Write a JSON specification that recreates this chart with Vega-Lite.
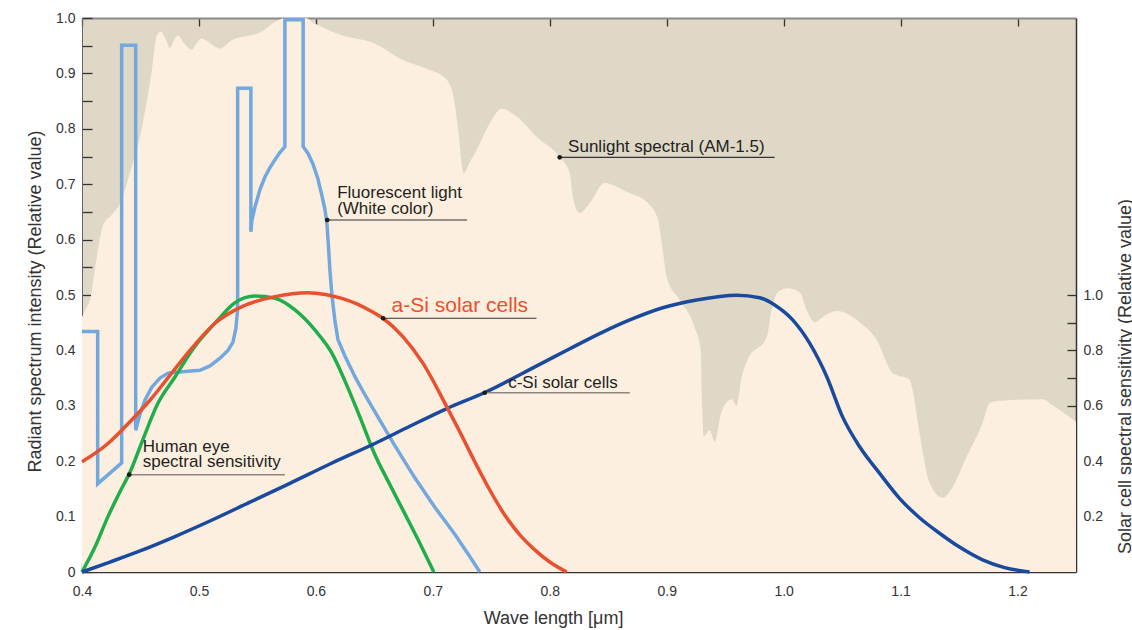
{
  "$schema": "https://vega.github.io/schema/vega-lite/v6.json",
  "width": 994,
  "height": 554,
  "autosize": "none",
  "padding": {"left": 82, "top": 18, "right": 56, "bottom": 58},
  "background": "white",
  "config": {
    "view": {"fill": "#dfd8c7", "stroke": null},
    "font": "Liberation Sans",
    "axis": {"grid": false, "labelFont": "Liberation Sans", "titleFont": "Liberation Sans", "labelColor": "#333333", "titleColor": "#333333", "titleFontWeight": "normal", "labelOverlap": false, "labelFlush": false}
  },
  "datasets": {
    "sun": [
      {"wl":0.4,"v":0.46},{"wl":0.4034,"v":0.475},{"wl":0.4068,"v":0.49},{"wl":0.412,"v":0.56},{"wl":0.418,"v":0.626},{"wl":0.4256,"v":0.645},{"wl":0.4325,"v":0.665},{"wl":0.441,"v":0.72},{"wl":0.4513,"v":0.803},{"wl":0.4598,"v":0.906},{"wl":0.4641,"v":0.969},{"wl":0.4675,"v":0.975},{"wl":0.4709,"v":0.965},{"wl":0.4752,"v":0.946},{"wl":0.4786,"v":0.96},{"wl":0.482,"v":0.968},{"wl":0.4872,"v":0.955},{"wl":0.4938,"v":0.943},{"wl":0.4983,"v":0.955},{"wl":0.5023,"v":0.963},{"wl":0.5094,"v":0.955},{"wl":0.518,"v":0.945},{"wl":0.528,"v":0.96},{"wl":0.5536,"v":0.975},{"wl":0.5675,"v":0.996},{"wl":0.5744,"v":1.0},{"wl":0.5906,"v":1.0},{"wl":0.5991,"v":0.99},{"wl":0.622,"v":0.969},{"wl":0.6504,"v":0.954},{"wl":0.6744,"v":0.924},{"wl":0.6974,"v":0.906},{"wl":0.7103,"v":0.892},{"wl":0.7171,"v":0.864},{"wl":0.7214,"v":0.803},{"wl":0.7265,"v":0.72},{"wl":0.7316,"v":0.74},{"wl":0.7376,"v":0.762},{"wl":0.7487,"v":0.81},{"wl":0.759,"v":0.836},{"wl":0.7718,"v":0.822},{"wl":0.7889,"v":0.785},{"wl":0.8085,"v":0.749},{"wl":0.8171,"v":0.72},{"wl":0.8197,"v":0.677},{"wl":0.8256,"v":0.648},{"wl":0.8342,"v":0.666},{"wl":0.847,"v":0.702},{"wl":0.8658,"v":0.686},{"wl":0.8829,"v":0.668},{"wl":0.8923,"v":0.638},{"wl":0.8966,"v":0.581},{"wl":0.9,"v":0.532},{"wl":0.9111,"v":0.491},{"wl":0.9239,"v":0.442},{"wl":0.9291,"v":0.4},{"wl":0.9303,"v":0.3},{"wl":0.9316,"v":0.245},{"wl":0.9368,"v":0.256},{"wl":0.941,"v":0.235},{"wl":0.947,"v":0.29},{"wl":0.9556,"v":0.312},{"wl":0.9598,"v":0.3},{"wl":0.9641,"v":0.352},{"wl":0.9692,"v":0.383},{"wl":0.9855,"v":0.424},{"wl":0.9897,"v":0.473},{"wl":0.9949,"v":0.505},{"wl":1.0034,"v":0.512},{"wl":1.0137,"v":0.505},{"wl":1.0197,"v":0.473},{"wl":1.0265,"v":0.451},{"wl":1.0333,"v":0.46},{"wl":1.0453,"v":0.471},{"wl":1.065,"v":0.451},{"wl":1.0795,"v":0.419},{"wl":1.0932,"v":0.359},{"wl":1.1077,"v":0.347},{"wl":1.1103,"v":0.328},{"wl":1.1162,"v":0.251},{"wl":1.1248,"v":0.161},{"wl":1.1359,"v":0.134},{"wl":1.1444,"v":0.153},{"wl":1.1564,"v":0.208},{"wl":1.1701,"v":0.269},{"wl":1.1761,"v":0.305},{"wl":1.1846,"v":0.309},{"wl":1.2214,"v":0.312},{"wl":1.2299,"v":0.301},{"wl":1.25,"v":0.271}
    ],
    "fluor": [
      {"wl":0.4,"v":0.434},{"wl":0.4134,"v":0.434},{"wl":0.4134,"v":0.159},{"wl":0.4339,"v":0.197},{"wl":0.4339,"v":0.951},{"wl":0.4459,"v":0.951},{"wl":0.4459,"v":0.256},{"wl":0.4496,"v":0.285},{"wl":0.4538,"v":0.31},{"wl":0.4598,"v":0.334},{"wl":0.4667,"v":0.35},{"wl":0.4735,"v":0.359},{"wl":0.488,"v":0.362},{"wl":0.5009,"v":0.364},{"wl":0.5094,"v":0.372},{"wl":0.518,"v":0.386},{"wl":0.5248,"v":0.4},{"wl":0.5291,"v":0.415},{"wl":0.5316,"v":0.44},{"wl":0.5329,"v":0.47},{"wl":0.5331,"v":0.491},{"wl":0.5331,"v":0.873},{"wl":0.5444,"v":0.873},{"wl":0.5444,"v":0.614},{"wl":0.5453,"v":0.635},{"wl":0.5479,"v":0.659},{"wl":0.5521,"v":0.69},{"wl":0.5564,"v":0.713},{"wl":0.5607,"v":0.73},{"wl":0.565,"v":0.744},{"wl":0.5692,"v":0.757},{"wl":0.5735,"v":0.768},{"wl":0.5735,"v":0.997},{"wl":0.5891,"v":0.997},{"wl":0.5891,"v":0.768},{"wl":0.5934,"v":0.755},{"wl":0.5974,"v":0.737},{"wl":0.6017,"v":0.71},{"wl":0.6051,"v":0.68},{"wl":0.6077,"v":0.655},{"wl":0.6094,"v":0.63},{"wl":0.6107,"v":0.59},{"wl":0.612,"v":0.545},{"wl":0.6137,"v":0.5},{"wl":0.6162,"v":0.455},{"wl":0.6188,"v":0.42},{"wl":0.6248,"v":0.39},{"wl":0.6333,"v":0.353},{"wl":0.6419,"v":0.32},{"wl":0.653,"v":0.28},{"wl":0.6675,"v":0.228},{"wl":0.6846,"v":0.17},{"wl":0.7017,"v":0.117},{"wl":0.7188,"v":0.068},{"wl":0.7316,"v":0.028},{"wl":0.7402,"v":0}
    ],
    "eye": [
      {"wl":0.4,"v":0},{"wl":0.4111,"v":0.045},{"wl":0.4222,"v":0.1},{"wl":0.4325,"v":0.145},{"wl":0.441,"v":0.18},{"wl":0.4513,"v":0.235},{"wl":0.465,"v":0.305},{"wl":0.4795,"v":0.352},{"wl":0.494,"v":0.4},{"wl":0.5162,"v":0.455},{"wl":0.5308,"v":0.486},{"wl":0.5479,"v":0.498},{"wl":0.565,"v":0.494},{"wl":0.5821,"v":0.473},{"wl":0.5991,"v":0.437},{"wl":0.6137,"v":0.395},{"wl":0.6248,"v":0.345},{"wl":0.6376,"v":0.28},{"wl":0.6504,"v":0.212},{"wl":0.6632,"v":0.158},{"wl":0.6761,"v":0.105},{"wl":0.6889,"v":0.052},{"wl":0.7009,"v":0}
    ],
    "asi": [
      {"wl":0.4,"r":0.398},{"wl":0.4222,"r":0.464},{"wl":0.4368,"r":0.524},{"wl":0.4581,"r":0.62},{"wl":0.4752,"r":0.71},{"wl":0.4923,"r":0.8},{"wl":0.5137,"r":0.898},{"wl":0.5368,"r":0.958},{"wl":0.565,"r":0.994},{"wl":0.5932,"r":1.008},{"wl":0.608,"r":1.002},{"wl":0.6222,"r":0.988},{"wl":0.635,"r":0.968},{"wl":0.6462,"r":0.944},{"wl":0.6573,"r":0.916},{"wl":0.6744,"r":0.85},{"wl":0.6915,"r":0.754},{"wl":0.712,"r":0.596},{"wl":0.7231,"r":0.506},{"wl":0.7359,"r":0.398},{"wl":0.7487,"r":0.296},{"wl":0.7615,"r":0.206},{"wl":0.7744,"r":0.134},{"wl":0.7872,"r":0.08},{"wl":0.8,"r":0.036},{"wl":0.8145,"r":0}
    ],
    "csi": [
      {"wl":0.4,"r":0},{"wl":0.4239,"r":0.036},{"wl":0.4496,"r":0.076},{"wl":0.4795,"r":0.128},{"wl":0.5094,"r":0.184},{"wl":0.5436,"r":0.252},{"wl":0.5778,"r":0.32},{"wl":0.612,"r":0.39},{"wl":0.6504,"r":0.464},{"wl":0.6803,"r":0.526},{"wl":0.712,"r":0.59},{"wl":0.7444,"r":0.648},{"wl":0.7889,"r":0.744},{"wl":0.8171,"r":0.806},{"wl":0.8453,"r":0.866},{"wl":0.8684,"r":0.91},{"wl":0.8966,"r":0.954},{"wl":0.9256,"r":0.982},{"wl":0.9598,"r":0.999},{"wl":0.9795,"r":0.99},{"wl":0.9923,"r":0.964},{"wl":1.0077,"r":0.91},{"wl":1.0222,"r":0.826},{"wl":1.0368,"r":0.706},{"wl":1.0504,"r":0.56},{"wl":1.065,"r":0.452},{"wl":1.0821,"r":0.356},{"wl":1.0991,"r":0.266},{"wl":1.1162,"r":0.196},{"wl":1.1333,"r":0.14},{"wl":1.1504,"r":0.09},{"wl":1.1701,"r":0.044},{"wl":1.1889,"r":0.016},{"wl":1.2103,"r":0}
    ],
    "leadDark": [
      {"wl":0.8085,"wl2":0.9923,"v":0.7485},
      {"wl":0.6097,"wl2":0.7293,"v":0.6354},
      {"wl":0.6575,"wl2":0.7886,"v":0.458}
    ],
    "leadGray": [
      {"wl":0.7444,"wl2":0.8684,"v":0.3236},
      {"wl":0.4404,"wl2":0.5735,"v":0.1756}
    ],
    "dots": [
      {"wl":0.8085,"v":0.7485},{"wl":0.6097,"v":0.6354},{"wl":0.6575,"v":0.458},{"wl":0.7444,"v":0.3236},{"wl":0.4404,"v":0.1756}
    ],
    "notes": [
      {"wl":0.8157,"v":0.7587,"t":"Sunlight spectral (AM-1.5)"},
      {"wl":0.6182,"v":0.675,"t":"Fluorescent light\n(White color)"},
      {"wl":0.7644,"v":0.3316,"t":"c-Si solar cells"},
      {"wl":0.4519,"v":0.217,"t":"Human eye\nspectral sensitivity"}
    ],
    "noteRed": [
      {"wl":0.6647,"v":0.47,"t":"a-Si solar cells"}
    ]
  },
  "layer": [
    {
      "data": {"name": "sun"},
      "mark": {"type": "area", "color": "#fdefe0", "interpolate": "monotone"},
      "encoding": {
        "x": {"field": "wl", "type": "quantitative", "scale": {"domain": [0.4, 1.25], "nice": false, "zero": false},
          "axis": {"orient": "bottom", "values": [0.4,0.5,0.6,0.7,0.8,0.9,1.0,1.1,1.2], "format": ".1f", "tickSize": -9, "tickColor": "#333333", "tickWidth": 1.3, "domainColor": "#333333", "domainWidth": 1.5, "labelPadding": 21, "labelFontSize": 14, "title": "Wave length [μm]", "titleFontSize": 18, "titleX": 471, "titleY": 51, "titleAlign": "center", "titleBaseline": "alphabetic"}},
        "y": {"field": "v", "type": "quantitative", "scale": {"domain": [0, 1], "nice": false},
          "axis": {"orient": "left", "values": [0,0.05,0.1,0.15,0.2,0.25,0.3,0.35,0.4,0.45,0.5,0.55,0.6,0.65,0.7,0.75,0.8,0.85,0.9,0.95,1.0],
            "labelExpr": "round(datum.value*100) % 10 == 0 ? (datum.value == 0 ? '0' : format(datum.value, '.1f')) : ''",
            "tickSize": -10, "tickColor": "#333333", "tickWidth": 1.3, "domainColor": "#666666", "domainWidth": 1, "labelPadding": 17, "labelFontSize": 14,
            "title": "Radiant spectrum intensity (Relative value)", "titleFontSize": 18, "titleAngle": 270, "titleX": -42, "titleY": 283, "titleAlign": "center", "titleBaseline": "alphabetic"}}
      }
    },
    {
      "data": {"name": "fluor"},
      "mark": {"type": "line", "color": "#72a8de", "strokeWidth": 3.5, "interpolate": "linear", "strokeJoin": "miter"},
      "encoding": {
        "x": {"field": "wl", "type": "quantitative", "scale": {"domain": [0.4, 1.25], "nice": false, "zero": false},
          "axis": {"orient": "top", "values": [0.4,0.5,0.6,0.7,0.8,0.9,1.0,1.1,1.2], "labels": false, "tickSize": -8, "tickColor": "#333333", "tickWidth": 1.3, "domainColor": "#8a8a8a", "domainWidth": 2, "title": null}},
        "y": {"field": "v", "type": "quantitative", "scale": {"domain": [0, 1], "nice": false}, "axis": null},
        "order": {"value": null}
      }
    },
    {
      "data": {"name": "eye"},
      "mark": {"type": "line", "color": "#1fae4b", "strokeWidth": 3.5, "interpolate": "monotone"},
      "encoding": {
        "x": {"field": "wl", "type": "quantitative", "scale": {"domain": [0.4, 1.25], "nice": false, "zero": false}, "axis": null},
        "y": {"field": "v", "type": "quantitative", "scale": {"domain": [0, 1], "nice": false}, "axis": null}
      }
    },
    {
      "data": {"name": "csi"},
      "mark": {"type": "line", "color": "#1a4a9e", "strokeWidth": 3.5, "interpolate": "monotone"},
      "encoding": {
        "x": {"field": "wl", "type": "quantitative", "scale": {"domain": [0.4, 1.25], "nice": false, "zero": false}, "axis": null},
        "y": {"field": "r", "type": "quantitative", "scale": {"domain": [0, 2], "nice": false},
          "axis": {"orient": "right", "values": [0.1,0.2,0.3,0.4,0.5,0.6,0.7,0.8,0.9,1.0],
            "labelExpr": "round(datum.value*10) % 2 == 0 ? format(datum.value, '.1f') : ''",
            "tickSize": -9, "tickColor": "#333333", "tickWidth": 1.3, "domainColor": "#333333", "domainWidth": 1.5, "labelPadding": 16, "labelFontSize": 14,
            "title": "Solar cell spectral sensitivity (Relative value)", "titleFontSize": 18, "titleAngle": 270, "titleX": 54, "titleY": 358, "titleAlign": "center", "titleBaseline": "alphabetic"}}
      }
    },
    {
      "data": {"name": "asi"},
      "mark": {"type": "line", "color": "#e8512f", "strokeWidth": 3.5, "interpolate": "monotone"},
      "encoding": {
        "x": {"field": "wl", "type": "quantitative", "scale": {"domain": [0.4, 1.25], "nice": false, "zero": false}, "axis": null},
        "y": {"field": "r", "type": "quantitative", "scale": {"domain": [0, 2], "nice": false}, "axis": null}
      }
    },
    {
      "data": {"name": "leadDark"},
      "mark": {"type": "rule", "color": "#333333", "strokeWidth": 1.2},
      "encoding": {
        "x": {"field": "wl", "type": "quantitative", "scale": {"domain": [0.4, 1.25], "nice": false, "zero": false}, "axis": null},
        "x2": {"field": "wl2"},
        "y": {"field": "v", "type": "quantitative", "scale": {"domain": [0, 1], "nice": false}, "axis": null}
      }
    },
    {
      "data": {"name": "leadGray"},
      "mark": {"type": "rule", "color": "#8c8580", "strokeWidth": 1.4},
      "encoding": {
        "x": {"field": "wl", "type": "quantitative", "scale": {"domain": [0.4, 1.25], "nice": false, "zero": false}, "axis": null},
        "x2": {"field": "wl2"},
        "y": {"field": "v", "type": "quantitative", "scale": {"domain": [0, 1], "nice": false}, "axis": null}
      }
    },
    {
      "data": {"name": "dots"},
      "mark": {"type": "point", "filled": true, "color": "#1a1a1a", "size": 22, "opacity": 1},
      "encoding": {
        "x": {"field": "wl", "type": "quantitative", "scale": {"domain": [0.4, 1.25], "nice": false, "zero": false}, "axis": null},
        "y": {"field": "v", "type": "quantitative", "scale": {"domain": [0, 1], "nice": false}, "axis": null}
      }
    },
    {
      "data": {"name": "notes"},
      "mark": {"type": "text", "align": "left", "baseline": "alphabetic", "font": "Liberation Sans", "fontSize": 17, "lineBreak": "\n", "lineHeight": 15.5, "color": "#231f20"},
      "encoding": {
        "x": {"field": "wl", "type": "quantitative", "scale": {"domain": [0.4, 1.25], "nice": false, "zero": false}, "axis": null},
        "y": {"field": "v", "type": "quantitative", "scale": {"domain": [0, 1], "nice": false}, "axis": null},
        "text": {"field": "t"}
      }
    },
    {
      "data": {"name": "noteRed"},
      "mark": {"type": "text", "align": "left", "baseline": "alphabetic", "font": "Liberation Sans", "fontSize": 21, "color": "#e8512f"},
      "encoding": {
        "x": {"field": "wl", "type": "quantitative", "scale": {"domain": [0.4, 1.25], "nice": false, "zero": false}, "axis": null},
        "y": {"field": "v", "type": "quantitative", "scale": {"domain": [0, 1], "nice": false}, "axis": null},
        "text": {"field": "t"}
      }
    }
  ],
  "resolve": {"scale": {"y": "independent"}, "axis": {"x": "independent", "y": "independent"}}
}
